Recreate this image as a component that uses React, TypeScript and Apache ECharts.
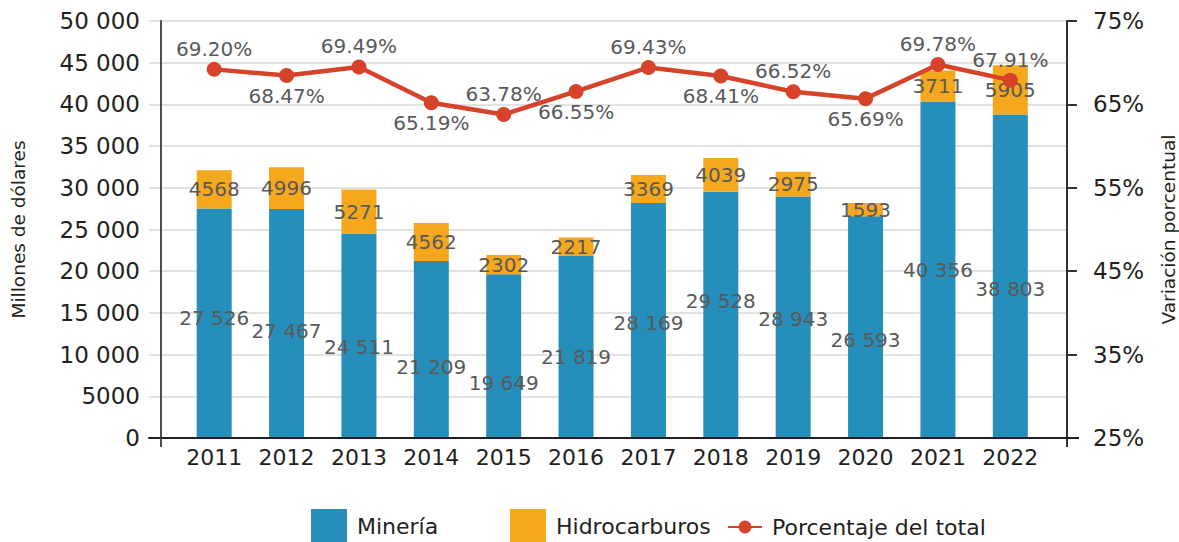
import React, { useEffect, useRef } from "react";
import * as echarts from "echarts";

const years = ["2011", "2012", "2013", "2014", "2015", "2016", "2017", "2018", "2019", "2020", "2021", "2022"];
const mineria = [27526, 27467, 24511, 21209, 19649, 21819, 28169, 29528, 28943, 26593, 40356, 38803];
const hidrocarburos = [4568, 4996, 5271, 4562, 2302, 2217, 3369, 4039, 2975, 1593, 3711, 5905];
const porcentaje = [69.2, 68.47, 69.49, 65.19, 63.78, 66.55, 69.43, 68.41, 66.52, 65.69, 69.78, 67.91];
const leftTicks = { min: 0, max: 50000, interval: 5000 };
const rightTicks = { min: 25, max: 75, interval: 10 };

// label placement tweaks (styling only)
const lineLabelSide = ["top", "bottom", "top", "bottom", "top", "bottom", "top", "bottom", "top", "bottom", "top", "top"];
const mineriaLabelNudge = [-5, 8, 11, 17, 27, 10, 2, -14, 2, 13, 0, 13];

const FONT = "DejaVu Sans";
const BLUE = "#258EBA";
const ORANGE = "#F5A81E";
const RED = "#D6432A";
const TXT = "#231F20";
const LBL = "#595959";

const fmtThousands = (v: number) => {
  if (Math.abs(v) >= 10000) {
    const s = String(Math.round(v));
    return s.slice(0, s.length - 3) + " " + s.slice(s.length - 3);
  }
  return String(v);
};

export default function App() {
  const ref = useRef<HTMLDivElement>(null);
  useEffect(() => {
    document.body.style.margin = "0";
    const chart = echarts.init(ref.current!, null, { renderer: "svg" });
    const legendText = { color: TXT, fontFamily: FONT, fontSize: 22, padding: [0, 0, 0, 5] };
    const option: any = {
      animation: false,
      backgroundColor: "#ffffff",
      textStyle: { fontFamily: FONT },
      grid: [
        { left: 178, right: 132.5, top: 21, bottom: 104, outerBoundsMode: "none", containLabel: false },
        { left: 149, right: 112, top: 21, bottom: 104, outerBoundsMode: "none", containLabel: false },
      ],
      xAxis: [
        {
          type: "category",
          gridIndex: 0,
          data: years,
          axisLine: { show: false },
          axisTick: { show: false },
          axisLabel: { color: TXT, fontFamily: FONT, fontSize: 22, margin: 8, interval: 0 },
        },
        {
          type: "value",
          gridIndex: 1,
          min: 0,
          max: 1,
          z: 5,
          axisLine: { show: true, lineStyle: { color: TXT, width: 2 } },
          axisTick: { show: false },
          axisLabel: { show: false },
          splitLine: { show: false },
        },
      ],
      yAxis: [
        {
          type: "value",
          gridIndex: 0,
          position: "left",
          offset: 17,
          ...leftTicks,
          axisLine: { show: true, lineStyle: { color: "#4D4D4D", width: 2 } },
          axisTick: { show: false },
          splitLine: { show: false },
          axisLabel: {
            color: TXT,
            fontFamily: FONT,
            fontSize: 23,
            margin: 21,
            formatter: (v: number) => fmtThousands(v),
          },
          name: "Millones de dólares",
          nameLocation: "middle",
          nameRotate: 90,
          nameGap: 133,
          nameTextStyle: { color: TXT, fontFamily: FONT, fontSize: 18.5 },
        },
        {
          type: "value",
          gridIndex: 0,
          position: "right",
          offset: 20.5,
          ...rightTicks,
          axisLine: { show: true, lineStyle: { color: "#333333", width: 2 } },
          axisTick: { show: true, inside: false, length: 10, lineStyle: { color: "#333333", width: 2 } },
          splitLine: { show: false },
          axisLabel: {
            color: TXT,
            fontFamily: FONT,
            fontSize: 23,
            margin: 26,
            formatter: "{value}%",
          },
          name: "Variación porcentual",
          nameLocation: "middle",
          nameRotate: 90,
          nameGap: 92,
          nameTextStyle: { color: TXT, fontFamily: FONT, fontSize: 18.5 },
        },
        {
          type: "value",
          gridIndex: 1,
          ...leftTicks,
          axisLine: { show: false },
          axisTick: { show: false },
          axisLabel: { show: false },
          splitLine: { show: true, lineStyle: { color: "#D9D9D9", width: 1.5 } },
        },
      ],
      legend: [
        {
          left: 311,
          top: 509,
          padding: 0,
          data: ["Minería"],
          icon: "rect",
          itemWidth: 36,
          itemHeight: 34,
          itemGap: 0,
          textStyle: legendText,
        },
        {
          left: 510,
          top: 509,
          padding: 0,
          data: ["Hidrocarburos"],
          icon: "rect",
          itemWidth: 36,
          itemHeight: 34,
          itemGap: 0,
          textStyle: legendText,
        },
        {
          left: 727,
          top: 516,
          padding: 0,
          data: ["Porcentaje del total"],
          itemWidth: 34,
          itemHeight: 16,
          itemGap: 0,
          textStyle: legendText,
        },
      ],
      series: [
        {
          name: "Minería",
          type: "bar",
          stack: "total",
          xAxisIndex: 0,
          yAxisIndex: 0,
          barWidth: 35,
          itemStyle: { color: BLUE },
          data: mineria.map((v, i) => ({
            value: v,
            label: { offset: [0, mineriaLabelNudge[i]] },
          })),
          label: {
            show: true,
            position: "inside",
            color: LBL,
            fontFamily: FONT,
            fontSize: 20,
            formatter: (p: any) => fmtThousands(p.value),
          },
        },
        {
          name: "Hidrocarburos",
          type: "bar",
          stack: "total",
          xAxisIndex: 0,
          yAxisIndex: 0,
          barWidth: 35,
          itemStyle: { color: ORANGE },
          data: hidrocarburos,
          label: {
            show: true,
            position: "inside",
            color: LBL,
            fontFamily: FONT,
            fontSize: 20,
            formatter: (p: any) => fmtThousands(p.value),
          },
        },
        {
          name: "Porcentaje del total",
          type: "line",
          xAxisIndex: 0,
          yAxisIndex: 1,
          z: 4,
          symbol: "circle",
          symbolSize: 15,
          itemStyle: { color: RED },
          lineStyle: { color: RED, width: 4.5 },
          data: porcentaje.map((v, i) => ({
            value: v,
            label: { position: lineLabelSide[i] },
          })),
          label: {
            show: true,
            color: LBL,
            fontFamily: FONT,
            fontSize: 20,
            distance: 3,
            formatter: (p: any) => p.value.toFixed(2) + "%",
          },
        },
      ],
      graphic: [
        { type: "line", z: 10, shape: { x1: 161, y1: 438, x2: 161, y2: 447 }, style: { stroke: "#4D4D4D", lineWidth: 2 } },
        { type: "line", z: 10, shape: { x1: 1067, y1: 438, x2: 1067, y2: 447 }, style: { stroke: "#333333", lineWidth: 2 } },
        { type: "line", z: 10, shape: { x1: 1066, y1: 438, x2: 1079, y2: 438 }, style: { stroke: TXT, lineWidth: 2 } },
      ],
    };
    chart.setOption(option);
    return () => chart.dispose();
  }, []);
  return <div ref={ref} style={{ position: "fixed", left: 0, top: 0, width: 1179, height: 542 }} />;
}
